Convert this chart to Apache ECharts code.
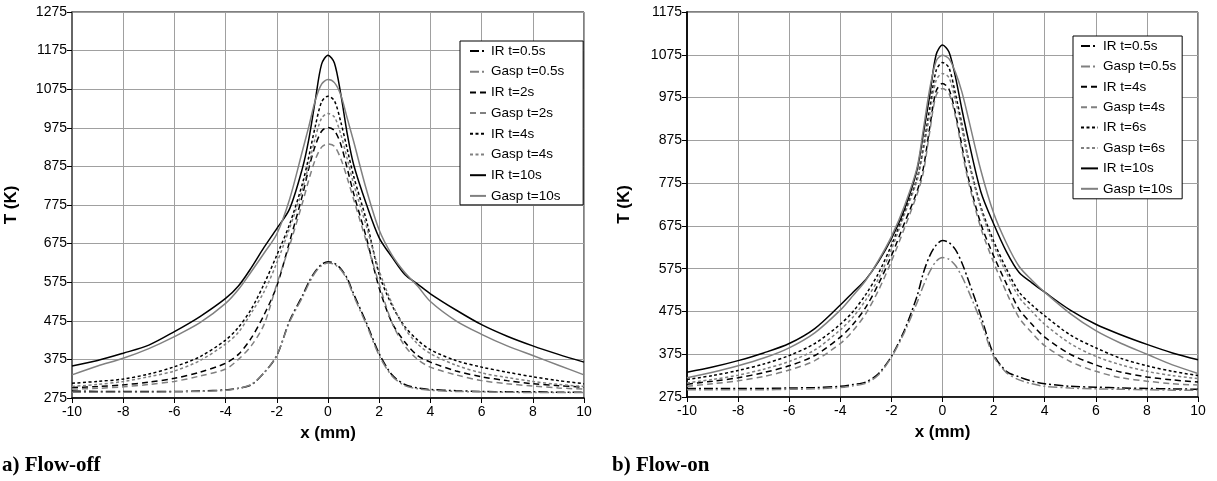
<!DOCTYPE html>
<html>
<head>
<meta charset="utf-8">
<script src="https://cdn.jsdelivr.net/npm/echarts@6/dist/echarts.min.js"></script>
<style>
html,body{margin:0;padding:0;background:#fff;}
#chart{width:1217px;height:481px;}
</style>
</head>
<body>
<div id="chart"></div>
<script>
// ---------- data ----------
const xMM = [-10,-9,-8,-7,-6,-5,-4,-3.5,-3,-2.5,-2,-1.5,-1,-0.75,-0.5,-0.25,0,0.25,0.5,0.75,1,1.5,2,2.5,3,3.5,4,5,6,7,8,9,10];

const xTicks = [-10,-8,-6,-4,-2,0,2,4,6,8,10];
const yTicksOff = [275,375,475,575,675,775,875,975,1075,1175,1275];
const yTicksOn = [275,375,475,575,675,775,875,975,1075,1175];

// a) Flow-off
const offIR05   = [293,292,292,292,292,293,296,300,309,340,385,475,540,575,603,621,628,624,610,585,545,470,390,335,310,301,297,294,292,291,291,290,290];
const offGasp05 = [290,290,290,290,291,292,295,300,310,340,386,472,536,571,600,618,625,621,607,581,540,465,385,332,307,299,295,292,291,290,289,289,289];
const offIR2    = [302,305,309,316,326,342,365,388,430,490,565,680,800,870,928,966,976,968,932,870,805,690,560,470,420,385,368,345,330,320,312,307,303];
const offGasp2  = [298,300,304,310,318,332,350,375,410,465,570,670,780,840,892,925,933,927,895,845,790,680,570,470,410,375,355,335,320,312,306,301,298];
const offIR4    = [313,318,324,337,356,382,425,458,505,570,645,725,830,900,978,1042,1057,1045,990,920,850,735,595,515,460,425,400,372,355,342,330,320,312];
const offGasp4  = [305,310,318,330,345,372,415,445,495,550,625,715,815,880,948,1000,1012,1003,958,895,830,720,605,520,455,415,390,360,340,328,318,310,305];
const offIR10   = [358,372,391,412,447,486,533,565,612,665,714,765,870,945,1045,1140,1163,1143,1062,960,880,777,690,640,595,570,545,503,465,435,410,388,368];
const offGasp10 = [335,358,378,403,434,470,520,556,602,650,700,790,915,978,1045,1088,1100,1092,1060,1000,940,815,710,645,600,565,525,475,440,410,385,360,335];

// b) Flow-on
const onIR05   = [295,295,295,295,296,297,300,304,310,330,370,430,510,565,605,630,641,636,620,590,550,465,375,335,322,312,306,300,298,296,295,294,293];
const onGasp05 = [292,292,292,292,293,294,297,301,307,327,368,425,495,535,568,592,601,597,583,558,525,452,370,332,315,306,300,296,294,293,292,291,291];
const onIR4    = [305,312,320,332,348,372,415,445,485,540,605,680,755,810,905,990,1008,995,940,865,790,680,605,540,480,445,415,375,350,333,322,315,310];
const onGasp4  = [300,306,313,323,338,360,400,430,470,525,592,668,748,800,895,980,996,985,932,855,782,670,590,520,460,425,395,358,335,320,312,306,303];
const onIR6    = [316,325,337,352,372,400,445,475,515,565,630,705,785,860,950,1038,1057,1045,985,915,835,720,640,575,520,490,465,420,390,365,348,335,325];
const onGasp6  = [308,316,326,340,358,385,432,462,502,552,620,700,780,850,935,1015,1031,1022,970,905,830,715,630,565,508,475,445,400,370,350,335,325,318];
const onIR10   = [333,345,360,378,400,435,490,520,550,592,645,712,805,890,980,1075,1098,1082,1025,950,880,755,680,615,566,542,520,478,445,420,398,378,362];
const onGasp10 = [320,333,348,366,390,425,478,512,548,595,650,720,810,900,995,1060,1074,1066,1035,990,930,805,705,635,580,548,520,470,430,400,375,350,330];

const offNames = ['IR t=0.5s','Gasp t=0.5s','IR t=2s','Gasp t=2s','IR t=4s','Gasp t=4s','IR t=10s','Gasp t=10s'];
const onNames  = ['IR t=0.5s','Gasp t=0.5s','IR t=4s','Gasp t=4s','IR t=6s','Gasp t=6s','IR t=10s','Gasp t=10s'];

// ---------- styling ----------
const BLACK = '#000000', GREY = '#808080';
const DASHDOT = [9,3,2,3], LONGDASH = [6,4], SHORTDASH = [3,2.5];
const FONT = 'Liberation Sans, Arial, sans-serif';

const offSeriesDefs = [
  [offIR05, BLACK, DASHDOT], [offGasp05, GREY, DASHDOT],
  [offIR2, BLACK, LONGDASH], [offGasp2, GREY, LONGDASH],
  [offIR4, BLACK, SHORTDASH], [offGasp4, GREY, SHORTDASH],
  [offIR10, BLACK, 'solid'], [offGasp10, GREY, 'solid']
];
const onSeriesDefs = [
  [onIR05, BLACK, DASHDOT], [onGasp05, GREY, DASHDOT],
  [onIR4, BLACK, LONGDASH], [onGasp4, GREY, LONGDASH],
  [onIR6, BLACK, SHORTDASH], [onGasp6, GREY, SHORTDASH],
  [onIR10, BLACK, 'solid'], [onGasp10, GREY, 'solid']
];

function mkSeries(name, ys, color, dash, idx) {
  return {
    type: 'line', name: name,
    xAxisIndex: idx, yAxisIndex: idx,
    data: xMM.map((x, i) => [x, ys[i]]),
    symbol: 'none', showSymbol: false,
    smooth: 0.3,
    lineStyle: { color: color, width: 1.5, type: dash },
    itemStyle: { color: color },
    emphasis: { disabled: true },
    animation: false
  };
}

const series = [];
const offLegend = [], onLegend = [];
offSeriesDefs.forEach((d, i) => { series.push(mkSeries(offNames[i], d[0], d[1], d[2], 0)); offLegend.push(offNames[i]); });
onSeriesDefs.forEach((d, i) => { const n = onNames[i] + ' '; series.push(mkSeries(n, d[0], d[1], d[2], 1)); onLegend.push(n); });

function xAxisCfg(idx) {
  return {
    type: 'value', gridIndex: idx, min: -10, max: 10, interval: 2,
    name: 'x (mm)', nameLocation: 'middle', nameGap: 27,
    nameTextStyle: { fontFamily: FONT, fontSize: 17, fontWeight: 'bold', color: '#000' },
    axisLine: { onZero: false, lineStyle: { color: '#000', width: 1.5 } },
    axisTick: { show: true, length: 5, lineStyle: { color: '#000' } },
    axisLabel: { fontFamily: FONT, fontSize: 14, color: '#000', margin: 7, formatter: v => String(v) },
    splitLine: { show: true, lineStyle: { color: '#a0a0a0', width: 1 } }
  };
}
function yAxisCfg(idx, max, ticks, axisColor, gap) {
  return {
    type: 'value', gridIndex: idx, min: 275, max: max,
    name: 'T (K)', nameLocation: 'middle', nameGap: gap, nameRotate: 90,
    nameTextStyle: { fontFamily: FONT, fontSize: 17, fontWeight: 'bold', color: '#000' },
    axisLine: { show: true, onZero: false, lineStyle: { color: axisColor, width: 2 } },
    axisTick: { show: true, length: 5, customValues: ticks, lineStyle: { color: '#000' } },
    axisLabel: { fontFamily: FONT, fontSize: 14, color: '#000', margin: 5, customValues: ticks, formatter: v => String(v) },
    splitLine: { show: true, lineStyle: { color: '#a0a0a0', width: 1 } }
  };
}

function legendCfg(names, left, top, padding, gap, iw) {
  return {
    data: names, orient: 'vertical', left: left, top: top,
    padding: padding, itemGap: gap, itemWidth: iw, itemHeight: 14,
    backgroundColor: '#fff', borderColor: '#000', borderWidth: 1, borderRadius: 0,
    itemStyle: { opacity: 0, borderWidth: 0 },
    textStyle: { fontFamily: FONT, fontSize: 13.5, color: '#000' },
    formatter: n => n.trim(),
    selectedMode: false
  };
}

const option = {
  animation: false,
  backgroundColor: '#fff',
  grid: [
    { left: 72, top: 12, width: 512, height: 386, show: true, borderColor: '#000', borderWidth: 1, backgroundColor: 'transparent' },
    { left: 687, top: 12, width: 511, height: 385, show: true, borderColor: '#000', borderWidth: 1, backgroundColor: 'transparent' }
  ],
  xAxis: [xAxisCfg(0), xAxisCfg(1)],
  yAxis: [yAxisCfg(0, 1275, yTicksOff, '#666', 52), yAxisCfg(1, 1175, yTicksOn, '#111', 54)],
  legend: [
    legendCfg(offLegend, 460, 41, [3, 19, 2, 9], 6.7, 16),
    legendCfg(onLegend, 1073, 36, [3, 6, 3, 7], 6.4, 17)
  ],
  graphic: [
    { type: 'text', left: 2, top: 455, style: { text: 'a) Flow-off', font: 'bold 21px "Liberation Serif", "Times New Roman", serif', fill: '#000' } },
    { type: 'text', left: 612, top: 455, style: { text: 'b) Flow-on', font: 'bold 21px "Liberation Serif", "Times New Roman", serif', fill: '#000' } }
  ],
  series: series
};

const chart = echarts.init(document.getElementById('chart'), null, { renderer: 'canvas' });
chart.setOption(option);
</script>
</body>
</html>
